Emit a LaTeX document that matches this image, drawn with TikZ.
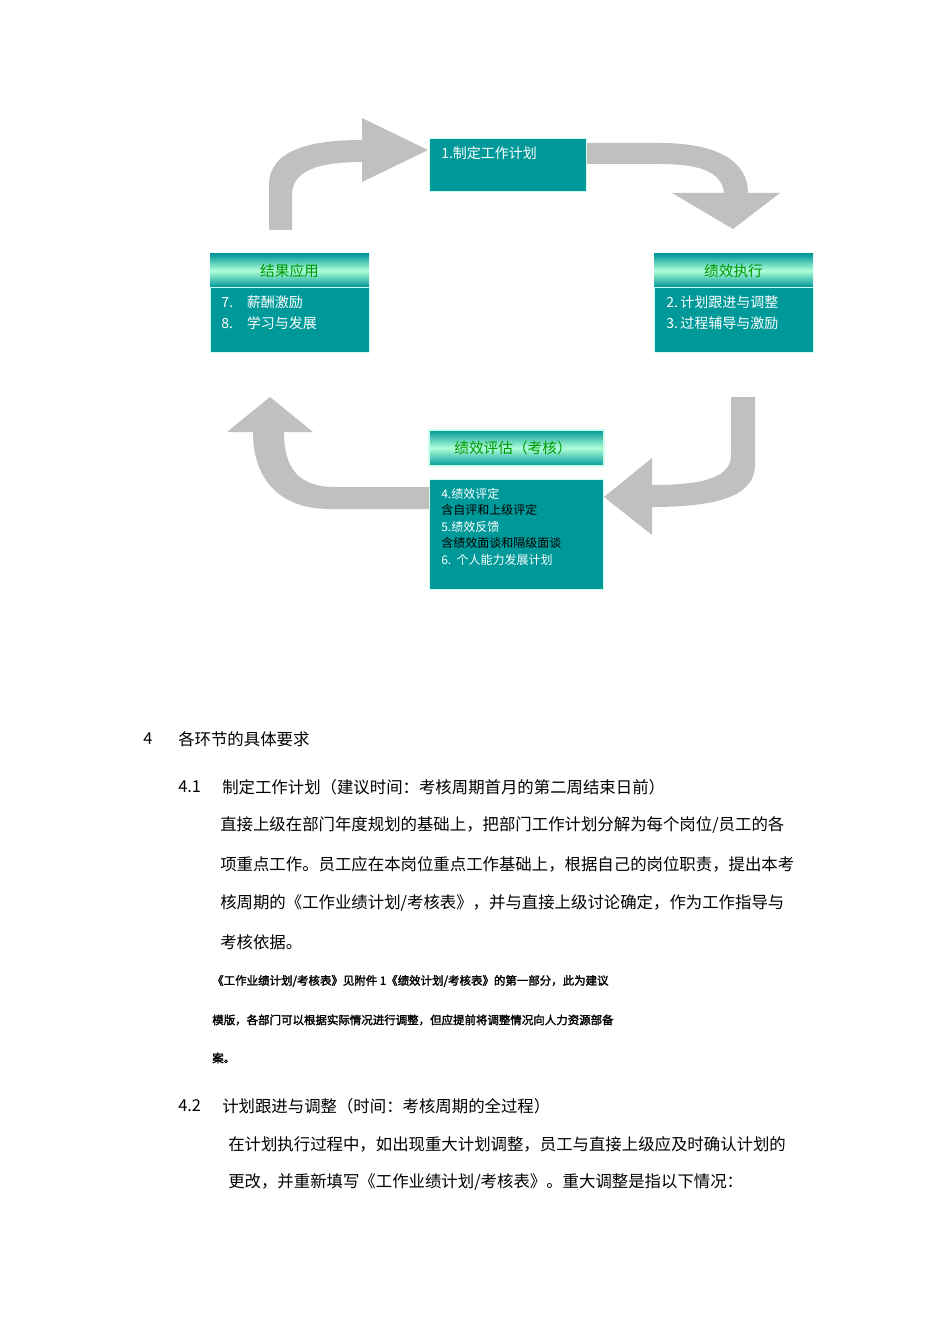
\documentclass[tikz,border=0pt]{standalone}
\usepackage{fontspec}
\newfontfamily\cjk[AutoFakeBold=2]{Noto Sans CJK SC}
\begin{document}
\begin{tikzpicture}[x=0.75pt,y=-0.75pt,
  arr/.style={fill=arrgray,draw=none},
  body/.style={fill=tealb,draw=edgeb,line width=0.8pt},
  wtxt/.style={anchor=west,inner sep=0,text=white,font=\cjk\fontsize{10.5}{12}\selectfont},
  btxt/.style={anchor=west,inner sep=0,text=black,font=\cjk\fontsize{9}{11}\selectfont},
  htxt/.style={inner sep=0,text=hgreen,font=\cjk\fontsize{11}{13}\selectfont},
  ptxt/.style={anchor=west,inner sep=0,font=\cjk\fontsize{12.3}{14}\selectfont},
  stxt/.style={anchor=west,inner sep=0,font=\cjk\bfseries\fontsize{8.6}{10}\selectfont}]
\definecolor{arrgray}{HTML}{C0C0C0}
\definecolor{tealb}{HTML}{009999}
\definecolor{edgeb}{HTML}{CCFFEE}
\definecolor{mint}{HTML}{B0FFD8}
\definecolor{hgreen}{HTML}{009900}
\useasboundingbox (0,0) rectangle (950,1344);
% arrows
\fill[arr] (269,230) -- (269,185) .. controls (269,150) and (310,140) .. (362,140) -- (362,118) -- (428,150) -- (362,182) -- (362,162) .. controls (320,162) and (292,170) .. (292,195) -- (292,230) -- cycle;
\fill[arr] (586,143) -- (660,143) .. controls (715,143) and (748,160) .. (748,193) -- (780,193) -- (733,229) -- (672,193) -- (724,193) .. controls (722,172) and (700,164) .. (660,164) -- (586,164) -- cycle;
\fill[arr] (755,397) -- (755,465) .. controls (755,495) and (720,507) .. (652,507) -- (652,535) -- (604,497) -- (652,458) -- (652,485) .. controls (710,485) and (731,475) .. (731,455) -- (731,397) -- cycle;
\fill[arr] (429,509) -- (330,509) .. controls (280,509) and (253,480) .. (253,432) -- (227,432) -- (270,397) -- (313,432) -- (284,432) .. controls (284,470) and (300,487) .. (335,487) -- (429,487) -- cycle;
% box 1
\node[body,minimum width=157*0.75pt,minimum height=53*0.75pt,anchor=north west,inner sep=0] (b1) at (429,138) {};
\node[wtxt] (t1) at (441,153) {1.制定工作计划};
% right
\shade[top color=tealb,bottom color=tealb,middle color=mint] (654,254) rectangle (813,287);
\node[htxt] (h2) at (733.5,271) {绩效执行};
\node[body,minimum width=159*0.75pt,minimum height=65*0.75pt,anchor=north west,inner sep=0] (b2) at (654,287) {};
\node[wtxt] (t2a) at (666,302) {2.\,计划跟进与调整};
\node[wtxt] (t2b) at (666,323) {3.\,过程辅导与激励};
% left
\shade[top color=tealb,bottom color=tealb,middle color=mint] (210,254) rectangle (369,287);
\node[htxt] (h3) at (289.5,271) {结果应用};
\node[body,minimum width=159*0.75pt,minimum height=65*0.75pt,anchor=north west,inner sep=0] (b3) at (210,287) {};
\node[wtxt] (t3a) at (221,302) {7.\quad 薪酬激励};
\node[wtxt] (t3b) at (221,323) {8.\quad 学习与发展};
% bottom
\shade[top color=tealb,bottom color=tealb,middle color=mint] (429,430) rectangle (604,466);
\draw[edgeb,line width=0.8pt] (429,430) rectangle (604,466);
\node[htxt] (h4) at (513,448) {绩效评估（考核）};
\node[body,minimum width=174*0.75pt,minimum height=110*0.75pt,anchor=north west,inner sep=0] (b4) at (429,479) {};
\node[wtxt,font=\cjk\fontsize{9}{11}\selectfont] (t4a) at (441,494) {4.绩效评定};
\node[btxt] (t4b) at (441,510) {含自评和上级评定};
\node[wtxt,font=\cjk\fontsize{9}{11}\selectfont] (t4c) at (441,527) {5.绩效反馈};
\node[btxt] (t4d) at (441,543) {含绩效面谈和隔级面谈};
\node[wtxt,font=\cjk\fontsize{9}{11}\selectfont] (t4e) at (441,560) {6.\ \ 个人能力发展计划};
% text
\node[ptxt] (s4n) at (143,739) {4};
\node[ptxt] (s4) at (178,739) {各环节的具体要求};
\node[ptxt] (s41n) at (178,787) {4.1};
\node[ptxt] (s41) at (222,787) {制定工作计划（建议时间：考核周期首月的第二周结束日前）};
\node[ptxt] (p1) at (220,825) {直接上级在部门年度规划的基础上，把部门工作计划分解为每个岗位/员工的各};
\node[ptxt] (p2) at (220,864) {项重点工作。员工应在本岗位重点工作基础上，根据自己的岗位职责，提出本考};
\node[ptxt] (p3) at (220,903) {核周期的《工作业绩计划/考核表》，并与直接上级讨论确定，作为工作指导与};
\node[ptxt] (p4) at (220,942) {考核依据。};
\node[stxt] (q1) at (212,981) {《工作业绩计划/考核表》见附件 1《绩效计划/考核表》的第一部分，此为建议};
\node[stxt] (q2) at (212,1020) {模版，各部门可以根据实际情况进行调整，但应提前将调整情况向人力资源部备};
\node[stxt] (q3) at (212,1058) {案。};
\node[ptxt] (s42n) at (178,1106) {4.2};
\node[ptxt] (s42) at (222,1106) {计划跟进与调整（时间：考核周期的全过程）};
\node[ptxt] (r1) at (228,1144) {在计划执行过程中，如出现重大计划调整，员工与直接上级应及时确认计划的};
\node[ptxt] (r2) at (228,1182) {更改，并重新填写《工作业绩计划/考核表》。重大调整是指以下情况：};
\end{tikzpicture}
\end{document}
